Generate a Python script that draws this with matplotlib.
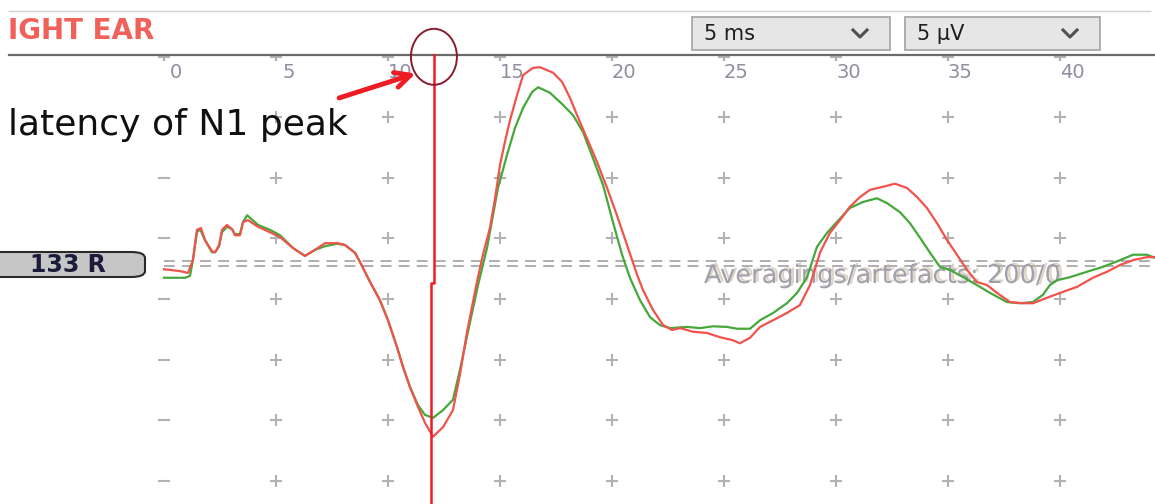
import matplotlib.pyplot as plt
import matplotlib.patheffects as pe
from matplotlib.patches import Ellipse, Rectangle, FancyBboxPatch

W, H = 1155, 504

# latency in ms, amplitude in grid divisions
green_ms = [0.0, 0.94, 1.16, 1.29, 1.47, 1.61, 1.83, 2.14, 2.28, 2.46, 2.59, 2.81, 3.04, 3.17,
            3.39, 3.53, 3.71, 4.20, 4.73, 5.18, 5.76, 6.29, 6.74, 7.19, 7.72, 8.08, 8.53, 8.75,
            9.20, 9.64, 10.00, 10.40, 10.67, 10.98, 11.34, 11.65, 12.01, 12.46, 12.90, 13.21,
            13.57, 14.02, 14.42, 14.91, 15.31, 15.67, 16.03, 16.43, 16.70, 17.23, 17.81, 18.26,
            18.71, 19.15, 19.60, 20.04, 20.45, 20.80, 21.25, 21.70, 22.14, 22.59, 23.35, 23.93,
            24.51, 25.13, 25.58, 26.16, 26.61, 27.19, 27.81, 28.26, 28.71, 29.15, 29.60, 30.04,
            30.62, 31.21, 31.83, 32.28, 32.86, 33.30, 33.75, 34.20, 34.64, 35.09, 35.67, 36.29,
            36.88, 37.63, 38.21, 38.79, 39.24, 39.55, 39.87, 40.45, 41.21, 41.92, 42.68, 43.26,
            43.88, 44.24]
green_amp = [0.35, 0.35, 0.38, 0.64, 1.10, 1.15, 0.97, 0.77, 0.77, 0.87, 1.10, 1.19, 1.15, 1.07,
             1.07, 1.27, 1.38, 1.22, 1.14, 1.05, 0.84, 0.71, 0.81, 0.87, 0.91, 0.89, 0.76, 0.61,
             0.28, -0.02, -0.35, -0.79, -1.12, -1.45, -1.75, -1.91, -1.96, -1.83, -1.66, -1.17,
             -0.54, 0.23, 0.84, 1.83, 2.37, 2.82, 3.15, 3.41, 3.49, 3.40, 3.20, 3.03,
             2.75, 2.32, 1.88, 1.27, 0.73, 0.35, -0.02, -0.30, -0.43, -0.48, -0.46, -0.48,
             -0.45, -0.46, -0.49, -0.49, -0.35, -0.23, -0.07, 0.10, 0.36, 0.86, 1.09, 1.27,
             1.50, 1.60, 1.66, 1.58, 1.43, 1.25, 1.01, 0.76, 0.53, 0.48, 0.36, 0.23,
             0.10, -0.05, -0.07, -0.05, 0.07, 0.23, 0.31, 0.36, 0.45, 0.53, 0.64, 0.73,
             0.73, 0.68]

red_ms = [0.0, 0.71, 1.07, 1.29, 1.47, 1.65, 1.83, 2.14, 2.28, 2.46, 2.59, 2.81, 3.04, 3.17,
          3.39, 3.53, 3.75, 4.20, 4.73, 5.18, 5.76, 6.29, 6.74, 7.19, 7.77, 8.08, 8.53, 8.75,
          9.20, 9.64, 10.00, 10.40, 10.67, 10.98, 11.34, 11.65, 12.01, 12.46, 12.90, 13.21,
          13.53, 13.97, 14.24, 14.55, 14.78, 15.00, 15.22, 15.45, 15.76, 16.03, 16.47, 16.79,
          17.37, 17.77, 18.13, 18.44, 18.88, 19.33, 19.78, 20.22, 20.67, 21.12, 21.38, 21.83,
          22.28, 22.68, 23.04, 23.62, 24.24, 24.82, 25.40, 25.71, 26.16, 26.61, 27.19, 27.81,
          28.39, 28.84, 29.29, 29.73, 30.18, 30.62, 31.07, 31.52, 32.10, 32.63, 33.17, 33.62,
          34.06, 34.51, 34.96, 35.40, 35.85, 36.29, 36.74, 37.19, 37.77, 38.35, 38.79, 39.42,
          40.00, 40.76, 41.47, 42.10, 42.68, 43.26, 43.88, 44.24]
red_amp = [0.49, 0.46, 0.43, 0.64, 1.14, 1.17, 0.97, 0.79, 0.77, 0.89, 1.14, 1.22, 1.15, 1.05,
           1.05, 1.27, 1.30, 1.19, 1.10, 1.02, 0.84, 0.71, 0.81, 0.92, 0.92, 0.89, 0.76, 0.61,
           0.28, -0.02, -0.35, -0.79, -1.12, -1.45, -1.78, -2.04, -2.27, -2.11, -1.83, -1.25,
           -0.54, 0.28, 0.73, 1.17, 1.66, 2.21, 2.59, 2.95, 3.36, 3.69, 3.81, 3.82,
           3.73, 3.58, 3.31, 3.03, 2.65, 2.26, 1.83, 1.38, 0.89, 0.40, 0.15, -0.18,
           -0.43, -0.51, -0.48, -0.54, -0.56, -0.63, -0.68, -0.73, -0.64, -0.46, -0.35, -0.23,
           -0.10, 0.23, 0.77, 1.09, 1.30, 1.52, 1.68, 1.80, 1.85, 1.90, 1.83, 1.68,
           1.50, 1.25, 0.97, 0.73, 0.48, 0.28, 0.23, 0.10, -0.05, -0.07, -0.07, 0.02,
           0.10, 0.20, 0.35, 0.45, 0.56, 0.64, 0.69, 0.69]

tick_ms = [0, 5, 10, 15, 20, 25, 30, 35, 40]
grid_rows = [3, 2, 1, 0, -1, -2, -3]
baseline_rows = [0.63, 0.54]
n1_upper_ms = 12.05
n1_lower_ms = 11.90
n1_break_amp = 0.26

# screen scale: 22.4 px per ms, 60.67 px per division, origin at pixel (164, 299)
PX_MS, PX_DIV, X0, Y0 = 22.4, 60.67, 164, 299
top_amp = (Y0 - 55) / PX_DIV

fig = plt.figure(figsize=(W / 100, H / 100), dpi=100)
ax = fig.add_axes([0, 0, 1, 1])
ax.set_xlim(-X0 / PX_MS, (W - X0) / PX_MS)
ax.set_ylim((Y0 - H) / PX_DIV, Y0 / PX_DIV)
ax.axis('off')


def px(x, y):
    return x / W, 1 - y / H


T = ax.transAxes
grey = '#b2b2b2'

# header lines
ax.plot([px(9, 0)[0], px(1150, 0)[0]], [px(0, 11)[1]] * 2, transform=T, color='#d0d0d0', lw=1)
ax.plot([px(9, 0)[0], 1], [px(0, 55)[1]] * 2, transform=T, color='#6a6a6a', lw=1.6, zorder=3)
ax.text(*px(8, 31), 'IGHT EAR', transform=T, color='#f2605a', fontweight='bold',
        fontsize=20, va='center', ha='left')

# dropdowns
for x0, x1, label in [(692, 890, '5 ms'), (905, 1100, '5 µV')]:
    ax.add_patch(Rectangle(px(x0, 50), (x1 - x0) / W, 33 / H, transform=T,
                           fc='#e6e6e6', ec='#a8a8a8', lw=1.3))
    ax.text(*px(x0 + 12, 34), label, transform=T, fontsize=15, color='#1e1e1e',
            va='center', ha='left')
    cx = x1 - 30
    ax.plot([px(cx - 7, 0)[0], px(cx, 0)[0], px(cx + 7, 0)[0]],
            [px(0, 30)[1], px(0, 37)[1], px(0, 30)[1]], transform=T,
            color='#505050', lw=2.2)

# top axis ticks and labels
ax.plot(tick_ms, [top_amp - 0.04] * len(tick_ms), ls='none', marker='_', ms=8,
        mew=1.6, color=grey)
ax.plot(tick_ms, [top_amp - 0.07] * len(tick_ms), ls='none', marker='|', ms=3,
        mew=1.6, color=grey)
for t in tick_ms:
    ax.text(t + 0.55, (Y0 - 72) / PX_DIV, str(t), fontsize=14, color='#8e8e9e',
            ha='center', va='center')

# grid crosses
for r in grid_rows:
    ax.plot(tick_ms[1:], [r] * (len(tick_ms) - 1), ls='none', marker='+', ms=9,
            mew=1.5, color=grey, zorder=1)
    ax.plot([0], [r], ls='none', marker='_', ms=8, mew=1.5, color=grey, zorder=1)

# baseline
for b in baseline_rows:
    ax.plot([0, (W - X0) / PX_MS], [b, b], color='#a8a8a8', lw=1.3,
            dashes=(6, 4), zorder=1)

ax.text(*px(704, 276), 'Averagings/artefacts: 200/0', transform=T, fontsize=18.5,
        color='#a0a0ac', va='center', ha='left', zorder=2,
        path_effects=[pe.SimplePatchShadow(offset=(2, 1), shadow_rgbFace='#c8b8a0',
                                           alpha=0.6),
                      pe.Normal()])

# channel label
ax.add_patch(FancyBboxPatch(px(-12, 277), 157 / W, 25 / H, transform=T,
                            boxstyle='round,pad=0,rounding_size=0.012',
                            fc='#c6c6c6', ec='#2a2a2a', lw=1.5))
ax.text(*px(68, 265), '133 R', transform=T, fontsize=17, fontweight='bold',
        color='#1c1c3a', ha='center', va='center')

# waveforms
ax.plot(green_ms, green_amp, color='#45a83a', lw=1.6, zorder=4)
ax.plot(red_ms, red_amp, color='#f0524c', lw=1.6, zorder=5)

# N1 cursor
ax.plot([n1_upper_ms, n1_upper_ms, n1_lower_ms, n1_lower_ms],
        [top_amp, n1_break_amp, n1_break_amp, (Y0 - H) / PX_DIV],
        color='#ee1c25', lw=1.8, zorder=6)
ax.add_patch(Ellipse((n1_upper_ms, top_amp - 0.03), 46 / PX_MS, 56 / PX_DIV,
                     fill=False, ec='#8b1a2e', lw=1.4, zorder=7))
ax.annotate('', xy=(11.35, 3.73), xytext=(7.7, 3.30),
            arrowprops=dict(arrowstyle='->,head_length=1.1,head_width=0.55',
                            color='#ee1c25', lw=3.5), zorder=7)

ax.text(*px(8, 125), 'latency of N1 peak', transform=T, fontsize=26,
        color='#101010', va='center', ha='left', zorder=8)

fig.savefig('out.png', dpi=100, facecolor='white')
